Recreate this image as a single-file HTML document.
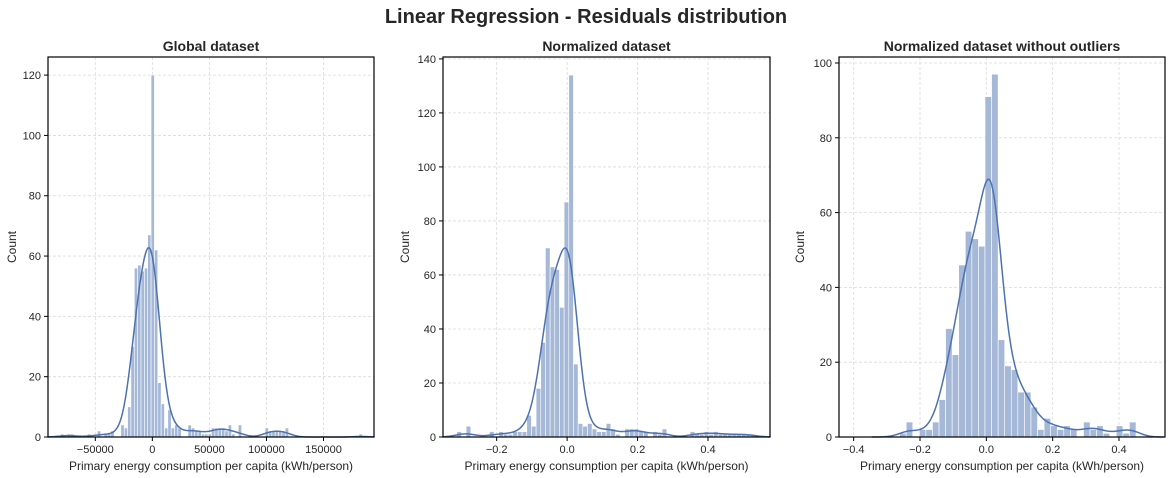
<!DOCTYPE html>
<html><head><meta charset="utf-8">
<style>
body{margin:0;background:#fff;}
svg{display:block;font-family:"Liberation Sans",Arial,sans-serif;}
</style></head>
<body>
<svg id="fig" width="1172" height="478" viewBox="0 0 1172 478" xmlns="http://www.w3.org/2000/svg">
<text x="586" y="23" text-anchor="middle" font-size="20" font-weight="bold" fill="#262626">Linear Regression - Residuals distribution</text>
</svg>
<script>
// Panel 1: Global dataset
const p1Counts = [1,0,1,1,0,0,0,0,1,0,0,2,0,1,1,2,0,0,4,3,10,30,56,57,55,56,67,120,62,18,11,3,9,3,4,3,0,0,4,3,2,2,1,1,1,3,3,3,3,2,4,1,0,4,0,0,0,0,0,0,0,3,2,2,2,2,2,3,0,0,0,0,0,0,0,0,0,0,0,0,0,0,0,0,0,0,0,0,0,1];
const p1BinStart = -80500, p1BinWidth = 2940;
const p1XTicks = [-50000,0,50000,100000,150000];
const p1XTickLabels = ["\u221250000","0","50000","100000","150000"];
const p1YTicks = [0,20,40,60,80,100,120];
// Panel 2: Normalized dataset
const p2Counts = [2,0,4,0,0,0,0,2,0,2,1,1,2,2,2,8,4,18,35,70,63,62,48,87,134,27,5,4,5,3,2,2,5,3,1,0,3,3,3,2,2,0,2,1,3,0,0,0,0,0,2,1,1,2,1,2,1,1,1,1,1,1,1,1];
const p2BinStart = -0.3133, p2BinWidth = 0.01325;
const p2XTicks = [-0.2,0,0.2,0.4];
const p2XTickLabels = ["\u22120.2","0.0","0.2","0.4"];
const p2YTicks = [0,20,40,60,80,100,120,140];
// Panel 3: Normalized dataset without outliers
const p3Counts = [1,4,0,2,2,4,10,29,22,46,55,53,51,91,97,26,19,18,12,12,8,2,5,3,2,3,2,0,4,2,3,1,0,3,1,4];
const p3BinStart = -0.2614, p3BinWidth = 0.0198;
const p3XTicks = [-0.4,-0.2,0,0.2,0.4];
const p3XTickLabels = ["\u22120.4","\u22120.2","0.0","0.2","0.4"];
const p3YTicks = [0,20,40,60,80,100];

const NS="http://www.w3.org/2000/svg";
const svg=document.getElementById('fig');
function mk(tag,attrs,parent){const e=document.createElementNS(NS,tag);for(const k in attrs)e.setAttribute(k,attrs[k]);(parent||svg).appendChild(e);return e;}

function panel(cfg){
  const g=mk('g',{});
  
  
  const {L,R,T,B,xmin,xmax,ymax}=cfg;
  const sx=v=>L+(v-xmin)/(xmax-xmin)*(R-L);
  const sy=v=>B-v/ymax*(B-T);
  cfg.xTicks.forEach(t=>{const l=mk('line',{x1:sx(t),x2:sx(t),y1:T,y2:B,stroke:'#dadada','stroke-width':0.8,'stroke-dasharray':'3,2'},g);
    
    });
  cfg.yTicks.forEach(t=>{const l=mk('line',{x1:L,x2:R,y1:sy(t),y2:sy(t),stroke:'#dadada','stroke-width':0.8,'stroke-dasharray':'3,2'},g);
    
    });
  cfg.counts.forEach((c,i)=>{ if(c<=0) return;
    const x0=sx(cfg.binStart+i*cfg.binWidth), x1=sx(cfg.binStart+(i+1)*cfg.binWidth);
    const r=mk('rect',{x:x0,y:sy(c),width:Math.max(0.5,x1-x0),height:B-sy(c),fill:'#a5b8d8',stroke:'#fff','stroke-width':0.6},g);
    
    
  });
  const n=cfg.counts.length, h=cfg.bw;
  const a=cfg.binStart-3*h, b=cfg.binStart+n*cfg.binWidth+3*h;
  let d='';
  for(let k=0;k<=300;k++){
    const x=a+(b-a)*k/300; let s=0;
    for(let i=0;i<n;i++){const c=cfg.binStart+(i+0.5)*cfg.binWidth;const z=(x-c)/h;s+=cfg.counts[i]*Math.exp(-0.5*z*z);}
    const y=s*cfg.binWidth/(h*Math.sqrt(2*Math.PI));
    const px=Math.min(Math.max(sx(x),L),R);
    d+=(k?'L':'M')+px.toFixed(2)+','+sy(y).toFixed(2);
  }
  const kde=mk('path',{d:d,fill:'none',stroke:'#4c72b0','stroke-width':1.5},g);
  
  
  const fr=mk('rect',{x:L,y:T,width:R-L,height:B-T,fill:'none',stroke:'#000','stroke-width':1.2},g);
  
  
  cfg.xTicks.forEach((t,i)=>{mk('line',{x1:sx(t),x2:sx(t),y1:B,y2:B+4,stroke:'#000','stroke-width':1},g);
    const tx=mk('text',{x:sx(t),y:B+16,'text-anchor':'middle','font-size':11,fill:'#262626'},g);tx.textContent=cfg.xTickLabels[i];
    
    });
  cfg.yTicks.forEach(t=>{mk('line',{x1:L-4,x2:L,y1:sy(t),y2:sy(t),stroke:'#000','stroke-width':1},g);
    const tx=mk('text',{x:L-7,y:sy(t)+4,'text-anchor':'end','font-size':11,fill:'#262626'},g);tx.textContent=String(t);
    
    });
  const ti=mk('text',{x:(L+R)/2,y:T-6,'text-anchor':'middle','font-size':14,'font-weight':'bold',fill:'#262626'},g);ti.textContent=cfg.title;
  
  
  const xl=mk('text',{x:(L+R)/2,y:B+33,'text-anchor':'middle','font-size':12,fill:'#262626'},g);xl.textContent='Primary energy consumption per capita (kWh/person)';
  
  
  const yl=mk('text',{x:cfg.ylx,y:(T+B)/2,'text-anchor':'middle','font-size':12,fill:'#262626',transform:`rotate(-90 ${cfg.ylx} ${(T+B)/2})`},g);yl.textContent='Count';
  
  
}

panel({name:'panel-global',title:'Global dataset',L:48,R:374,T:57,B:437,xmin:-91450,xmax:194270,ymax:126,
  counts:p1Counts,binStart:p1BinStart,binWidth:p1BinWidth,bw:6600,xTicks:p1XTicks,xTickLabels:p1XTickLabels,yTicks:p1YTicks,ylx:16});
panel({name:'panel-normalized',title:'Normalized dataset',L:443,R:770,T:57,B:437,xmin:-0.3524,xmax:0.576,ymax:140.7,
  counts:p2Counts,binStart:p2BinStart,binWidth:p2BinWidth,bw:0.024,xTicks:p2XTicks,xTickLabels:p2XTickLabels,yTicks:p2YTicks,ylx:409});
panel({name:'panel-normalized-no-outliers',title:'Normalized dataset without outliers',L:839,R:1165,T:57,B:437,xmin:-0.4442,xmax:0.5387,ymax:101.6,
  counts:p3Counts,binStart:p3BinStart,binWidth:p3BinWidth,bw:0.028,xTicks:p3XTicks,xTickLabels:p3XTickLabels,yTicks:p3YTicks,ylx:804});
</script>
</body></html>
